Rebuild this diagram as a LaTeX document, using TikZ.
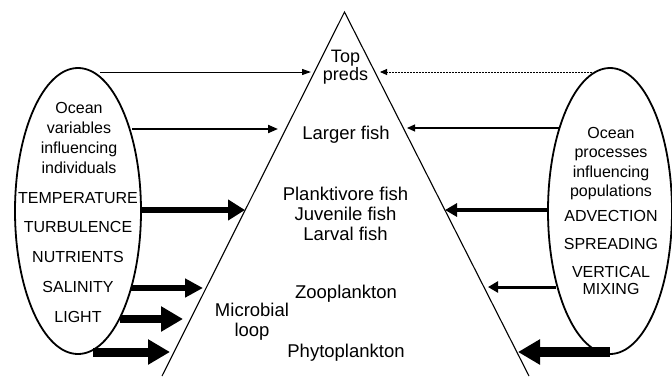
\documentclass[tikz,border=0pt]{standalone}
\usepackage{fontspec}
\setmainfont{Liberation Sans}
\usetikzlibrary{arrows.meta,shapes.geometric}
\tikzset{
  tri/.style={line width=1.1pt},
  oval/.style={draw, ellipse, line width=1.8pt, inner sep=0pt},
  lbl/.style={font=\fontsize{18.5}{20}\selectfont, align=center, anchor=base, inner sep=0pt},
  elbl/.style={font=\fontsize{16}{20}\selectfont, align=center, anchor=base, inner sep=0pt},
  capl/.style={font=\fontsize{16}{29.7}\selectfont, align=center, anchor=base, inner sep=0pt},
}
\begin{document}
\begin{tikzpicture}[x=1pt,y=-1pt]
\useasboundingbox (0,0) rectangle (672,376);
% pyramid
\coordinate (apex) at (344.5,12);
\coordinate (bl) at (162,376);
\coordinate (br) at (529,376);
\draw[tri] (bl) -- (apex) -- (br);
% ellipses
\node[oval, minimum width=126pt, minimum height=286pt] (lell) at (78,211) {};
\node[oval, minimum width=124pt, minimum height=286pt] (rell) at (610,211) {};
% pyramid labels (anchor = baseline of last line)
\node[lbl, font=\fontsize{18}{18}\selectfont] (top) at (345.5,80) {Top\\preds};
\node[lbl] (large) at (346,139) {Larger fish};
\node[lbl] (plank) at (345.5,240) {Planktivore fish\\Juvenile fish\\Larval fish};
\node[lbl] (zoo) at (346,298) {Zooplankton};
\node[lbl] (micro) at (252,336) {Microbial\\loop};
\node[lbl] (phyto) at (346,357) {Phytoplankton};
% left ellipse labels
\node[elbl] (lhead) at (79,173) {Ocean\\variables\\influencing\\individuals};
\node[capl] (lvars) at (78,322) {TEMPERATURE\\TURBULENCE\\NUTRIENTS\\SALINITY\\LIGHT};
% right ellipse labels
\node[elbl, font=\fontsize{16}{19.5}\selectfont] (rhead) at (611,196.5) {Ocean\\processes\\influencing\\populations};
\node[elbl] (adv) at (611,221) {ADVECTION};
\node[elbl] (spr) at (611,249) {SPREADING};
\node[elbl, font=\fontsize{16}{16.5}\selectfont] (vmix) at (611,294) {VERTICAL\\MIXING};
% left arrow coordinates
\coordinate (ls1) at (100,72);  \coordinate (le1) at (311,72);
\coordinate (ls2) at (132,129); \coordinate (le2) at (278,129);
\coordinate (ls3) at (141,210); \coordinate (le3) at (245,210);
\coordinate (ls4) at (131,288); \coordinate (le4) at (203,288);
\coordinate (ls5) at (120,319); \coordinate (le5) at (183,319);
\coordinate (ls6) at (93,352);  \coordinate (le6) at (170,352);
\draw[line width=1pt, -{Triangle[length=9pt,width=6pt]}] (ls1) -- (le1);
\draw[line width=2pt, -{Triangle[length=10pt,width=8pt]}] (ls2) -- (le2);
\draw[line width=6pt, -{Triangle[length=17pt,width=20pt]}] (ls3) -- (le3);
\draw[line width=6pt, -{Triangle[length=18pt,width=18pt]}] (ls4) -- (le4);
\draw[line width=8pt, -{Triangle[length=22pt,width=24pt]}] (ls5) -- (le5);
\draw[line width=9pt, -{Triangle[length=22pt,width=24pt]}] (ls6) -- (le6);
% right arrow coordinates
\coordinate (rs1) at (592,72);  \coordinate (re1) at (380,72);
\coordinate (rs2) at (559,128); \coordinate (re2) at (407,128);
\coordinate (rs3) at (548,210); \coordinate (re3) at (445,210);
\coordinate (rs4) at (556,287); \coordinate (re4) at (488,287);
\coordinate (rs5) at (610,352); \coordinate (re5) at (518,352);
\draw[line width=0.9pt, dash pattern=on 1.6pt off 1.4pt, -{Triangle[length=7pt,width=6pt]}] (rs1) -- (re1);
\draw[line width=1.2pt, -{Triangle[length=8pt,width=7pt]}] (rs2) -- (re2);
\draw[line width=4.5pt, -{Triangle[length=12pt,width=13pt]}] (rs3) -- (re3);
\draw[line width=3pt, -{Triangle[length=10pt,width=11pt]}] (rs4) -- (re4);
\draw[line width=10pt, -{Triangle[length=22pt,width=24pt]}] (rs5) -- (re5);
\end{tikzpicture}
\end{document}
